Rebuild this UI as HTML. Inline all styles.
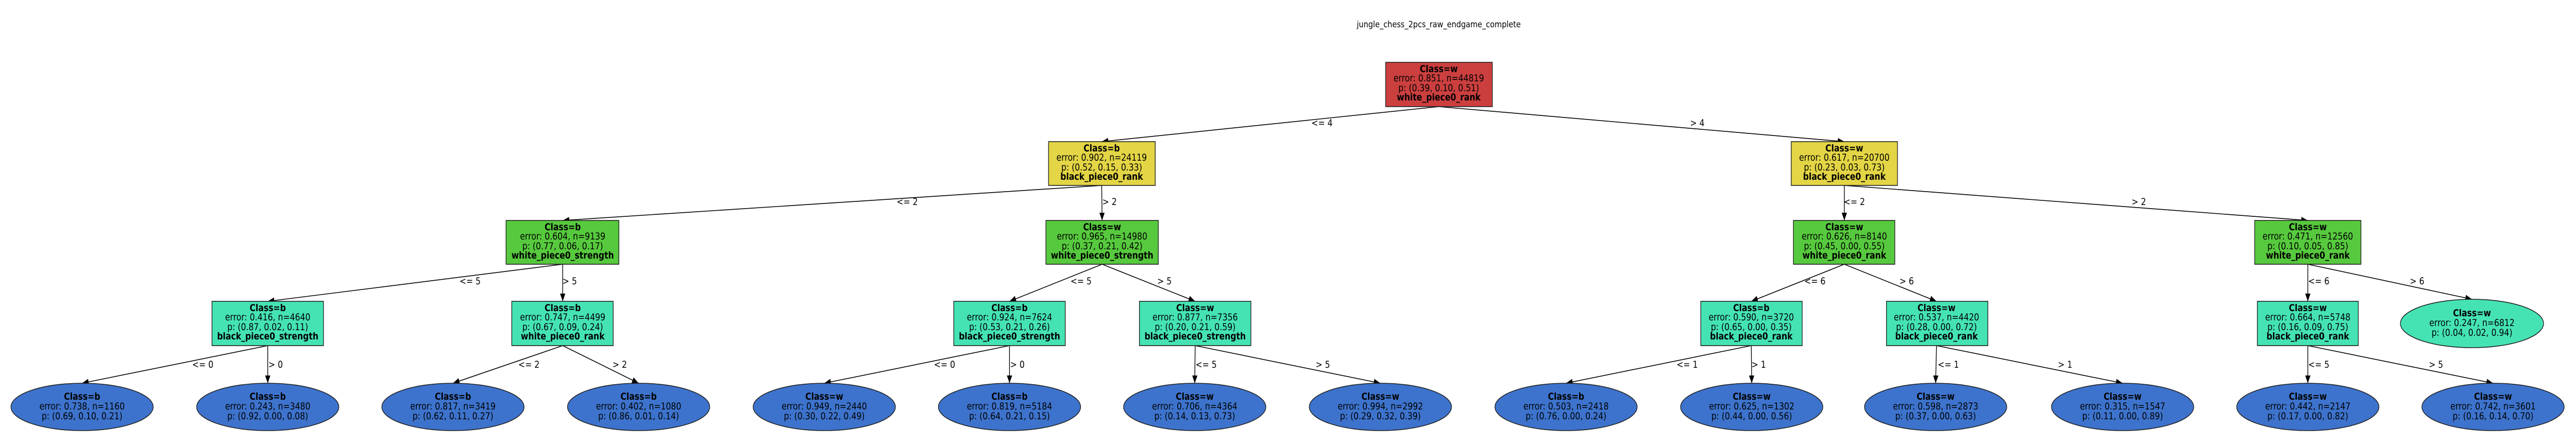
<!DOCTYPE html>
<html><head><meta charset="utf-8"><style>
html,body{margin:0;padding:0;background:#fff;overflow:hidden;width:100vw;height:100vh;}
svg{display:block;width:100vw;height:100vh;}
text{font-family:"DejaVu Sans","Liberation Sans",sans-serif;font-size:18.4px;fill:#000;}
.b{font-weight:bold;}
.e{fill:none;stroke:#000;stroke-width:1.6;}
</style></head><body>
<svg viewBox="0 0 5869 862" preserveAspectRatio="none" xmlns="http://www.w3.org/2000/svg">
<defs><marker id="a" markerUnits="userSpaceOnUse" markerWidth="16" markerHeight="12" refX="15" refY="6" orient="auto"><path d="M0,0 L15,6 L0,12 z" fill="#000"/></marker></defs>
<text x="3278" y="53" text-anchor="middle" style="font-size:17px">jungle_chess_2pcs_raw_endgame_complete</text>
<g class="edges">
<line class="e" x1="3278" y1="207" x2="2510" y2="275" marker-end="url(#a)"/>
<line class="e" x1="3278" y1="207" x2="4202" y2="275" marker-end="url(#a)"/>
<line class="e" x1="2510" y1="360" x2="1282" y2="428" marker-end="url(#a)"/>
<line class="e" x1="2510" y1="360" x2="2511" y2="428" marker-end="url(#a)"/>
<line class="e" x1="4202" y1="360" x2="4202" y2="428" marker-end="url(#a)"/>
<line class="e" x1="4202" y1="360" x2="5258" y2="428" marker-end="url(#a)"/>
<line class="e" x1="1282" y1="513" x2="610" y2="585" marker-end="url(#a)"/>
<line class="e" x1="1282" y1="513" x2="1282" y2="585" marker-end="url(#a)"/>
<line class="e" x1="2511" y1="513" x2="2300" y2="585" marker-end="url(#a)"/>
<line class="e" x1="2511" y1="513" x2="2723" y2="585" marker-end="url(#a)"/>
<line class="e" x1="4202" y1="513" x2="3990" y2="585" marker-end="url(#a)"/>
<line class="e" x1="4202" y1="513" x2="4412" y2="585" marker-end="url(#a)"/>
<line class="e" x1="5258" y1="513" x2="5258" y2="585" marker-end="url(#a)"/>
<line class="e" x1="5258" y1="513" x2="5632" y2="581" marker-end="url(#a)"/>
<line class="e" x1="610" y1="671" x2="187" y2="744" marker-end="url(#a)"/>
<line class="e" x1="610" y1="671" x2="610" y2="744" marker-end="url(#a)"/>
<line class="e" x1="1282" y1="671" x2="1032" y2="744" marker-end="url(#a)"/>
<line class="e" x1="1282" y1="671" x2="1455" y2="744" marker-end="url(#a)"/>
<line class="e" x1="2300" y1="671" x2="1878" y2="744" marker-end="url(#a)"/>
<line class="e" x1="2300" y1="671" x2="2300" y2="744" marker-end="url(#a)"/>
<line class="e" x1="2723" y1="671" x2="2722" y2="744" marker-end="url(#a)"/>
<line class="e" x1="2723" y1="671" x2="3145" y2="744" marker-end="url(#a)"/>
<line class="e" x1="3990" y1="671" x2="3568" y2="744" marker-end="url(#a)"/>
<line class="e" x1="3990" y1="671" x2="3991" y2="744" marker-end="url(#a)"/>
<line class="e" x1="4412" y1="671" x2="4410" y2="744" marker-end="url(#a)"/>
<line class="e" x1="4412" y1="671" x2="4836" y2="744" marker-end="url(#a)"/>
<line class="e" x1="5258" y1="671" x2="5258" y2="744" marker-end="url(#a)"/>
<line class="e" x1="5258" y1="671" x2="5680" y2="744" marker-end="url(#a)"/>
</g>
<g text-anchor="middle">
<text x="3012" y="245">&lt;= 4</text><text x="3867" y="245">&gt; 4</text>
<text x="2067" y="398">&lt;= 2</text><text x="2528" y="398">&gt; 2</text>
<text x="4225" y="398">&lt;= 2</text><text x="4873" y="398">&gt; 2</text>
<text x="1071" y="552">&lt;= 5</text><text x="1298" y="552">&gt; 5</text>
<text x="2463" y="552">&lt;= 5</text><text x="2653" y="552">&gt; 5</text>
<text x="4135" y="552">&lt;= 6</text><text x="4344" y="552">&gt; 6</text>
<text x="5283" y="552">&lt;= 6</text><text x="5507" y="552">&gt; 6</text>
<text x="462" y="714">&lt;= 0</text><text x="628" y="714">&gt; 0</text>
<text x="1205" y="714">&lt;= 2</text><text x="1412" y="714">&gt; 2</text>
<text x="2152" y="714">&lt;= 0</text><text x="2318" y="714">&gt; 0</text>
<text x="2748" y="714">&lt;= 5</text><text x="3014" y="714">&gt; 5</text>
<text x="3844" y="714">&lt;= 1</text><text x="4007" y="714">&gt; 1</text>
<text x="4439" y="714">&lt;= 1</text><text x="4705" y="714">&gt; 1</text>
<text x="5283" y="714">&lt;= 5</text><text x="5550" y="714">&gt; 5</text>
</g>
<g stroke="#222" stroke-width="1.6">
<rect x="3157" y="121" width="243" height="86" fill="#cc3f3f"/>
<rect x="2389" y="275" width="243" height="85" fill="#e3d545"/>
<rect x="4081" y="275" width="242" height="85" fill="#e3d545"/>
<rect x="1153" y="428" width="257" height="85" fill="#57c93e"/>
<rect x="2383" y="428" width="256" height="85" fill="#57c93e"/>
<rect x="4086" y="428" width="231" height="85" fill="#57c93e"/>
<rect x="5137" y="428" width="242" height="85" fill="#57c93e"/>
<rect x="483" y="585" width="254" height="86" fill="#45e3b4"/>
<rect x="1166" y="585" width="231" height="86" fill="#45e3b4"/>
<rect x="2173" y="585" width="254" height="86" fill="#45e3b4"/>
<rect x="2596" y="585" width="254" height="86" fill="#45e3b4"/>
<rect x="3875" y="585" width="231" height="86" fill="#45e3b4"/>
<rect x="4298" y="585" width="231" height="86" fill="#45e3b4"/>
<rect x="5143" y="585" width="230" height="86" fill="#45e3b4"/>
<ellipse cx="5632" cy="628" rx="163" ry="47" fill="#45e3b4"/>
<g fill="#3d73cc">
<ellipse cx="187" cy="790" rx="162" ry="46"/><ellipse cx="610" cy="790" rx="162" ry="46"/>
<ellipse cx="1032" cy="790" rx="162" ry="46"/><ellipse cx="1455" cy="790" rx="162" ry="46"/>
<ellipse cx="1878" cy="790" rx="162" ry="46"/><ellipse cx="2300" cy="790" rx="162" ry="46"/>
<ellipse cx="2722" cy="790" rx="162" ry="46"/><ellipse cx="3145" cy="790" rx="162" ry="46"/>
<ellipse cx="3568" cy="790" rx="162" ry="46"/><ellipse cx="3991" cy="790" rx="162" ry="46"/>
<ellipse cx="4410" cy="790" rx="162" ry="46"/><ellipse cx="4836" cy="790" rx="162" ry="46"/>
<ellipse cx="5258" cy="790" rx="162" ry="46"/><ellipse cx="5680" cy="790" rx="162" ry="46"/>
</g></g>
<g text-anchor="middle">
<text class="b" x="3278" y="140">Class=w</text><text x="3278" y="158">error: 0.851, n=44819</text><text x="3278" y="177">p: (0.39, 0.10, 0.51)</text><text class="b" x="3278" y="195">white_piece0_rank</text>
<text class="b" x="2510" y="294">Class=b</text><text x="2510" y="312">error: 0.902, n=24119</text><text x="2510" y="331">p: (0.52, 0.15, 0.33)</text><text class="b" x="2510" y="349">black_piece0_rank</text>
<text class="b" x="4202" y="294">Class=w</text><text x="4202" y="312">error: 0.617, n=20700</text><text x="4202" y="331">p: (0.23, 0.03, 0.73)</text><text class="b" x="4202" y="349">black_piece0_rank</text>
<text class="b" x="1282" y="447">Class=b</text><text x="1282" y="465">error: 0.604, n=9139</text><text x="1282" y="484">p: (0.77, 0.06, 0.17)</text><text class="b" x="1282" y="502">white_piece0_strength</text>
<text class="b" x="2511" y="447">Class=w</text><text x="2511" y="465">error: 0.965, n=14980</text><text x="2511" y="484">p: (0.37, 0.21, 0.42)</text><text class="b" x="2511" y="502">white_piece0_strength</text>
<text class="b" x="4202" y="447">Class=w</text><text x="4202" y="465">error: 0.626, n=8140</text><text x="4202" y="484">p: (0.45, 0.00, 0.55)</text><text class="b" x="4202" y="502">white_piece0_rank</text>
<text class="b" x="5258" y="447">Class=w</text><text x="5258" y="465">error: 0.471, n=12560</text><text x="5258" y="484">p: (0.10, 0.05, 0.85)</text><text class="b" x="5258" y="502">white_piece0_rank</text>
<text class="b" x="610" y="604">Class=b</text><text x="610" y="622">error: 0.416, n=4640</text><text x="610" y="641">p: (0.87, 0.02, 0.11)</text><text class="b" x="610" y="659">black_piece0_strength</text>
<text class="b" x="1282" y="604">Class=b</text><text x="1282" y="622">error: 0.747, n=4499</text><text x="1282" y="641">p: (0.67, 0.09, 0.24)</text><text class="b" x="1282" y="659">white_piece0_rank</text>
<text class="b" x="2300" y="604">Class=b</text><text x="2300" y="622">error: 0.924, n=7624</text><text x="2300" y="641">p: (0.53, 0.21, 0.26)</text><text class="b" x="2300" y="659">black_piece0_strength</text>
<text class="b" x="2723" y="604">Class=w</text><text x="2723" y="622">error: 0.877, n=7356</text><text x="2723" y="641">p: (0.20, 0.21, 0.59)</text><text class="b" x="2723" y="659">black_piece0_strength</text>
<text class="b" x="3990" y="604">Class=b</text><text x="3990" y="622">error: 0.590, n=3720</text><text x="3990" y="641">p: (0.65, 0.00, 0.35)</text><text class="b" x="3990" y="659">black_piece0_rank</text>
<text class="b" x="4412" y="604">Class=w</text><text x="4412" y="622">error: 0.537, n=4420</text><text x="4412" y="641">p: (0.28, 0.00, 0.72)</text><text class="b" x="4412" y="659">black_piece0_rank</text>
<text class="b" x="5258" y="604">Class=w</text><text x="5258" y="622">error: 0.664, n=5748</text><text x="5258" y="641">p: (0.16, 0.09, 0.75)</text><text class="b" x="5258" y="659">black_piece0_rank</text>
<text class="b" x="5632" y="614">Class=w</text><text x="5632" y="633">error: 0.247, n=6812</text><text x="5632" y="652">p: (0.04, 0.02, 0.94)</text>
<text class="b" x="187" y="776">Class=b</text><text x="187" y="795">error: 0.738, n=1160</text><text x="187" y="814">p: (0.69, 0.10, 0.21)</text>
<text class="b" x="610" y="776">Class=b</text><text x="610" y="795">error: 0.243, n=3480</text><text x="610" y="814">p: (0.92, 0.00, 0.08)</text>
<text class="b" x="1032" y="776">Class=b</text><text x="1032" y="795">error: 0.817, n=3419</text><text x="1032" y="814">p: (0.62, 0.11, 0.27)</text>
<text class="b" x="1455" y="776">Class=b</text><text x="1455" y="795">error: 0.402, n=1080</text><text x="1455" y="814">p: (0.86, 0.01, 0.14)</text>
<text class="b" x="1878" y="776">Class=w</text><text x="1878" y="795">error: 0.949, n=2440</text><text x="1878" y="814">p: (0.30, 0.22, 0.49)</text>
<text class="b" x="2300" y="776">Class=b</text><text x="2300" y="795">error: 0.819, n=5184</text><text x="2300" y="814">p: (0.64, 0.21, 0.15)</text>
<text class="b" x="2722" y="776">Class=w</text><text x="2722" y="795">error: 0.706, n=4364</text><text x="2722" y="814">p: (0.14, 0.13, 0.73)</text>
<text class="b" x="3145" y="776">Class=w</text><text x="3145" y="795">error: 0.994, n=2992</text><text x="3145" y="814">p: (0.29, 0.32, 0.39)</text>
<text class="b" x="3568" y="776">Class=b</text><text x="3568" y="795">error: 0.503, n=2418</text><text x="3568" y="814">p: (0.76, 0.00, 0.24)</text>
<text class="b" x="3991" y="776">Class=w</text><text x="3991" y="795">error: 0.625, n=1302</text><text x="3991" y="814">p: (0.44, 0.00, 0.56)</text>
<text class="b" x="4410" y="776">Class=w</text><text x="4410" y="795">error: 0.598, n=2873</text><text x="4410" y="814">p: (0.37, 0.00, 0.63)</text>
<text class="b" x="4836" y="776">Class=w</text><text x="4836" y="795">error: 0.315, n=1547</text><text x="4836" y="814">p: (0.11, 0.00, 0.89)</text>
<text class="b" x="5258" y="776">Class=w</text><text x="5258" y="795">error: 0.442, n=2147</text><text x="5258" y="814">p: (0.17, 0.00, 0.82)</text>
<text class="b" x="5680" y="776">Class=w</text><text x="5680" y="795">error: 0.742, n=3601</text><text x="5680" y="814">p: (0.16, 0.14, 0.70)</text>
</g>
</svg>
</body></html>
